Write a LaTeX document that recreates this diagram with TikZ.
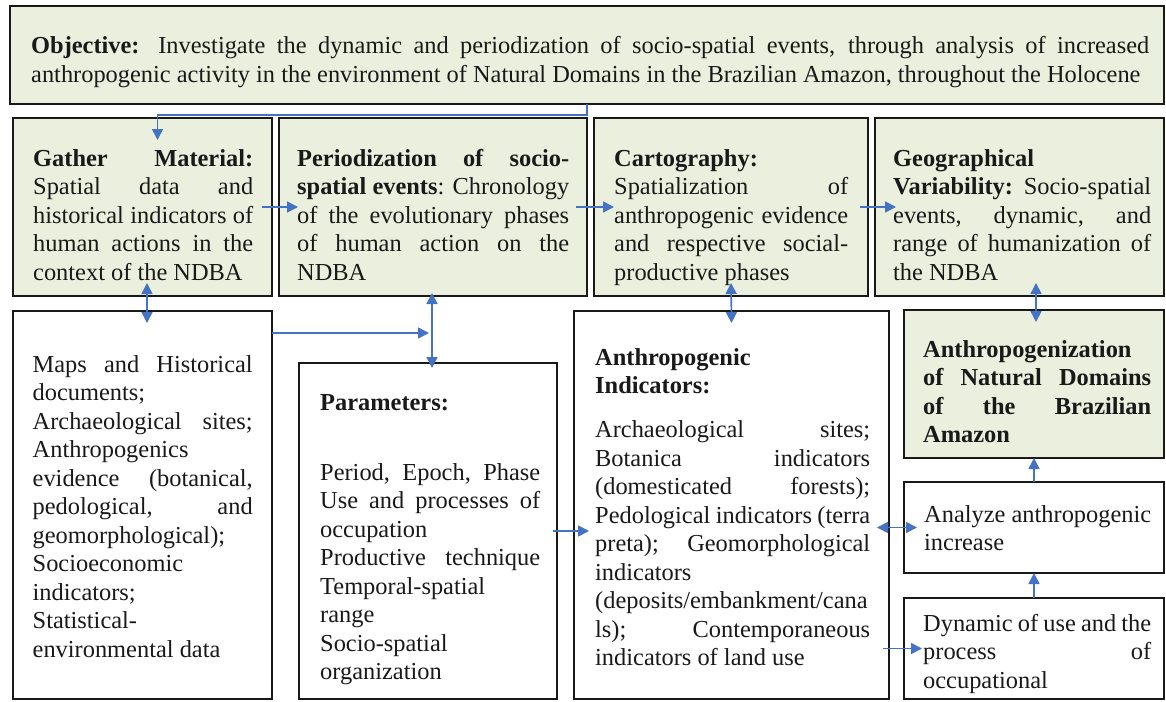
\documentclass[tikz,border=0pt]{standalone}
\usepackage{fontspec}
\setmainfont{Liberation Serif}
\usetikzlibrary{calc}
\usetikzlibrary{arrows.meta}

\hyphenpenalty=10000

\definecolor{olivebox}{HTML}{EBF0DE}
\definecolor{arrowblue}{RGB}{68,114,196}

\tikzset{
  greenbox/.style={draw=black!90, line width=2.6pt, fill=olivebox, inner sep=0pt, outer sep=0pt, anchor=north west},
  whitebox/.style={greenbox, fill=white},
  txt/.style={inner sep=0pt, anchor=base west, align=justify, text=black!90, font=\fontsize{24.4}{28.5}\selectfont},
  link/.style={arrowblue, line width=1.6pt, -{Triangle[length=11pt,width=11pt]}},
  twoway/.style={link, {Triangle[length=11pt,width=11pt]}-{Triangle[length=11pt,width=11pt]}},
}

\begin{document}
\begin{tikzpicture}[x=1pt,y=-1pt]

\useasboundingbox[fill=white] (0,0) rectangle (1166,701);

% frames
\node[greenbox, minimum width=1154pt, minimum height=98pt] (obj) at (10,6) {};
\node[greenbox, minimum width=259pt, minimum height=178pt] (gather) at (13,118) {};
\node[greenbox, minimum width=308pt, minimum height=178pt] (period) at (279,118) {};
\node[greenbox, minimum width=274pt, minimum height=178pt] (carto) at (594,118) {};
\node[greenbox, minimum width=289pt, minimum height=178pt] (geo) at (875,118) {};
\node[whitebox, minimum width=259pt, minimum height=388pt] (maps) at (13,311) {};
\node[whitebox, minimum width=258pt, minimum height=336pt] (params) at (299,363) {};
\node[whitebox, minimum width=315pt, minimum height=388pt] (anthro) at (574,311) {};
\node[greenbox, minimum width=260pt, minimum height=148pt] (anthz) at (904,310) {};
\node[whitebox, minimum width=260pt, minimum height=91pt] (analyze) at (904,482) {};
\node[whitebox, minimum width=260pt, minimum height=101pt] (dynamic) at (904,598) {};

% texts
\node[txt, text width=1118pt] (objtext) at (31,53.5) {\textbf{Objective:} Investigate the dynamic and periodization of socio-spatial events, through analysis of increased\linebreak anthropogenic activity in the environment of Natural Domains in the Brazilian Amazon, throughout the Holocene};
\node[txt, text width=220pt] (gathertext) at (33,166) {\textbf{Gather Material:}\linebreak Spatial data and\linebreak historical indicators of\linebreak human actions in the\linebreak context of the NDBA};
\node[txt, text width=272pt] (periodtext) at (297,166) {\textbf{Periodization of socio-}\linebreak \textbf{spatial events}: Chronology\linebreak of the evolutionary phases\linebreak of human action on the\linebreak NDBA};
\node[txt, text width=234pt] (cartotext) at (614,166) {\textbf{Cartography:}\newline Spatialization of\linebreak anthropogenic evidence\linebreak and respective social-\linebreak productive phases};
\node[txt, text width=258pt] (geotext) at (893,166) {\textbf{Geographical}\newline \textbf{Variability:} Socio-spatial\linebreak events, dynamic, and\linebreak range of humanization of\linebreak the NDBA};
\node[txt, text width=220pt] (mapstext) at (32.5,372) {Maps and Historical\linebreak documents;\newline Archaeological sites;\linebreak Anthropogenics\newline evidence (botanical,\linebreak pedological, and\linebreak geomorphological);\newline Socioeconomic\newline indicators;\newline Statistical-\newline environmental data};
\node[txt, text width=220pt] (paramtext) at (320,410) {\textbf{Parameters:}\par\vspace{41.5pt}Period, Epoch, Phase\linebreak Use and processes of\linebreak occupation\newline Productive technique\linebreak Temporal-spatial\newline range\newline Socio-spatial\newline organization};
\node[txt, text width=275pt] (anthrotext) at (595,365) {\textbf{Anthropogenic}\newline \textbf{Indicators:}\par\vspace{15.5pt}Archaeological sites;\linebreak Botanica indicators\linebreak (domesticated forests);\linebreak Pedological indicators (terra\linebreak preta); Geomorphological\linebreak indicators\newline (deposits/embankment/cana\newline ls); Contemporaneous\linebreak indicators of land use};
\node[txt, text width=228pt] (anthztext) at (923,357) {\textbf{Anthropogenization}\newline \textbf{of Natural Domains}\linebreak \textbf{of the Brazilian}\linebreak \textbf{Amazon}};
\node[txt, text width=227pt] (analyzetext) at (924,522) {Analyze anthropogenic\linebreak increase};
\node[txt, text width=228pt] (dynamictext) at (923,631) {Dynamic of use and the\linebreak process of\linebreak occupational};

% connectors
\draw[link] (obj.south) -- ++(0,11) -| ([xshift=15pt,yshift=-22pt]gather.north);
\draw[link] ([xshift=-10pt]gather.east) -- ([xshift=19pt]period.west);
\draw[link] ([xshift=-11pt]period.east) -- ([xshift=20pt]carto.west);
\draw[link] ([xshift=-8pt]carto.east) -- ([xshift=21pt]geo.west);
\draw[twoway] ([xshift=4.5pt,yshift=13pt]gather.south) -- ([xshift=4.5pt,yshift=-12pt]maps.north);
\draw[twoway] ([yshift=13pt]carto.south) -- ([yshift=-12pt]anthro.north);
\draw[twoway] ($(geo.south -| anthz.north)+(2,-13)$) -- ([xshift=2pt,yshift=-12pt]anthz.north);
\coordinate (pv) at (432,333);
\draw[link] (maps.east |- pv) -- ([xshift=-3pt]pv);
\draw[twoway] ($(period.south -| pv)+(0,-3)$) -- ($(params.north -| pv)+(0,5)$);
\draw[link] ([xshift=-4pt]params.east) -- ($(params.east -| anthro.west)+(15,0)$);
\draw[twoway] ($(analyze.west -| anthro.east)+(-12,0)$) -- ([xshift=13pt]analyze.west);
\draw[link] ($(dynamic.west -| anthro.east)+(-6,0)$) -- ([xshift=18pt]dynamic.west);
\draw[link] (analyze.north) -- (anthz.south);
\draw[link] (dynamic.north) -- (analyze.south);

\end{tikzpicture}
\end{document}
